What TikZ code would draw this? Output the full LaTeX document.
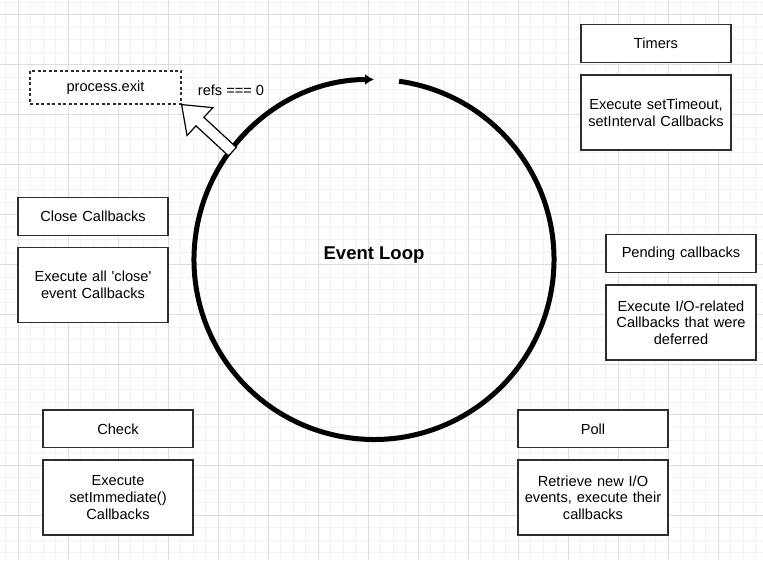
\documentclass[tikz,border=0pt]{standalone}
\usepackage{fontspec}
\setmainfont{Liberation Sans}
\usetikzlibrary{calc,arrows.meta}
\definecolor{gridmajor}{RGB}{221,221,221}
\definecolor{gridminor}{RGB}{242,242,242}
\definecolor{boxline}{RGB}{45,45,45}

\tikzset{
  phase/.style={draw=boxline, line width=1.3pt, fill=white, minimum width=150pt, minimum height=37.5pt,
    inner sep=0pt, text width=146pt, align=center, font=\fontsize{14.6}{16.7}\selectfont},
  phasedesc/.style={phase, minimum height=75pt},
  exitbox/.style={draw=boxline, line width=1.2pt, dash pattern=on 3pt off 2.5pt, fill=white,
    minimum width=151pt, minimum height=33pt, inner sep=0pt, font=\fontsize{14.6}{16.7}\selectfont},
  hollowarrow/.style={draw=black, line width=1.2pt, fill=white, line join=miter},
}

\begin{document}
\begin{tikzpicture}[x=1pt,y=1pt]
    \useasboundingbox (0,0) rectangle (763,560);
    \fill[white] (0,0) rectangle (763,560);

    % grid
    \begin{scope}
        \clip (0,0) rectangle (763,560);
        \foreach \i in {0,...,61} \draw[gridminor, line width=1pt] ({5.5+12.5*\i},0) -- ++(0,560);
        \foreach \j in {0,...,44} \draw[gridminor, line width=1pt] (0,{7.5+12.5*\j}) -- ++(763,0);
        \foreach \i in {0,...,14} \draw[gridmajor, line width=1pt] ({18+50*\i},0) -- ++(0,560);
        \foreach \j in {0,...,10} \draw[gridmajor, line width=1pt] (0,{45+50*\j}) -- ++(763,0);
    \end{scope}

    % event loop
    \node[circle, minimum size=360pt, inner sep=0pt, outer sep=0pt] (loop) at (374,300.5) {};
    \node[font=\bfseries\fontsize{18.5}{22}\selectfont] (title) at (374,305) {Event Loop};
    \draw[line width=5pt, -{Latex[length=9pt,width=11pt]}]
        ($(loop.center)+(82:180)$) arc[start angle=82, end angle=-270, radius=180];

    % exit
    \node[exitbox] (exit) at (105.5,472.5) {process.exit};
    \node[font=\fontsize{14.6}{16.7}\selectfont] (refs) at (231,470) {refs === 0};
    \coordinate (tail) at ($(loop.center)+(142.7:178)$);
    \coordinate (tip) at (exit.south east);
    \coordinate (hb) at ($(tip)!25pt!(tail)$);
    \draw[hollowarrow] ($(tail)!5.8pt!90:(tip)$) -- ($(hb)!5.8pt!-90:(tail)$) -- ($(hb)!19pt!-90:(tail)$)
        -- (tip) -- ($(hb)!19pt!90:(tail)$) -- ($(hb)!5.8pt!90:(tail)$) -- ($(tail)!5.8pt!-90:(tip)$) -- cycle;

    % phases
    \node[phase] (timers) at (656,516.4) {Timers};
    \node[phasedesc] (timersdesc) at (656,447.5) {Execute setTimeout,\\setInterval Callbacks};

    \node[phase] (pending) at (681,306.4) {Pending callbacks};
    \node[phasedesc] (pendingdesc) at (681,237.5) {Execute I/O-related\\Callbacks that were\\deferred};

    \node[phase] (poll) at (593,131.2) {Poll};
    \node[phasedesc] (polldesc) at (593,62.5) {Retrieve new I/O\\events, execute their\\callbacks};

    \node[phase] (check) at (118,131.2) {Check};
    \node[phasedesc] (checkdesc) at (118,62.5) {Execute\\setImmediate()\\Callbacks};

    \node[phase] (close) at (93,343.5) {Close Callbacks};
    \node[phasedesc] (closedesc) at (93,275.2) {Execute all \textquotesingle close\textquotesingle\\event Callbacks};
\end{tikzpicture}
\end{document}
